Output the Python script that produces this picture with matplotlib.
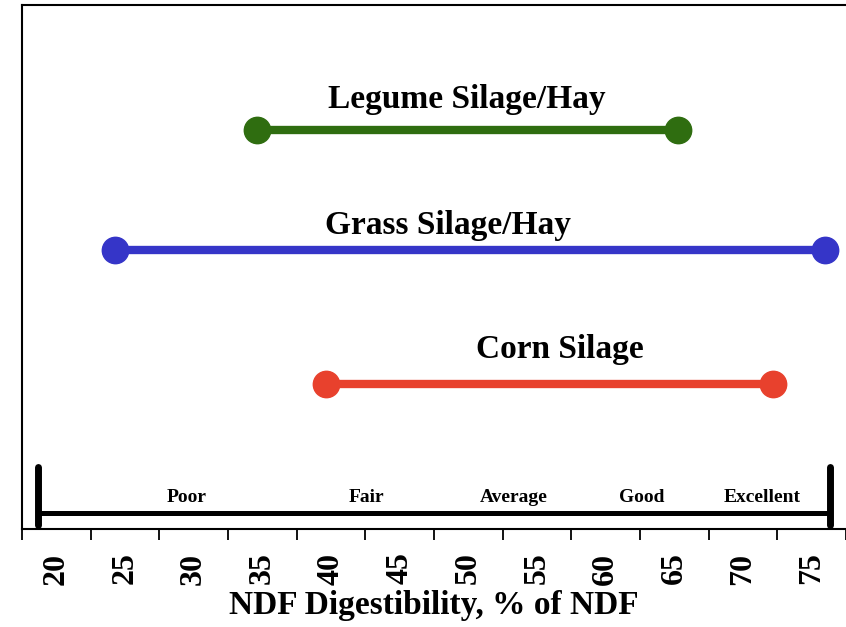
import matplotlib
matplotlib.use("Agg")
import matplotlib.pyplot as plt

# ---- data ----
forages = ["Legume Silage/Hay", "Grass Silage/Hay", "Corn Silage"]
low = [34.6, 24.3, 39.6]
high = [65.3, 76.0, 72.2]
row_y = [7.61, 5.32, 2.77]
label_x = [49.9, 48.5, 56.7]
label_y = [8.20, 5.80, 3.42]
colors = ["#2f6d10", "#3535c8", "#e8412d"]

ratings = ["Poor", "Fair", "Average", "Good", "Excellent"]
rating_x = [29.5, 42.6, 53.3, 62.6, 71.4]
scale_start, scale_end = 18.7, 76.3
scale_y = 0.30

tick_labels = [20, 25, 30, 35, 40, 45, 50, 55, 60, 65, 70, 75]
boundaries = [17.5 + 5 * i for i in range(13)]

plt.rcParams['font.family'] = ['Liberation Serif', 'DejaVu Serif']

fig = plt.figure(figsize=(8.46, 6.27), dpi=100)
ax = fig.add_axes([0.026, 0.1563, 0.974, 0.8357])

for name, lo, hi, y, lx, ly, c in zip(forages, low, high, row_y, label_x, label_y, colors):
    ax.plot([lo, hi], [y, y], color=c, lw=6, solid_capstyle='butt', zorder=2)
    ax.plot([lo, hi], [y, y], 'o', color=c, ms=19, zorder=3)
    ax.text(lx, ly, name, ha='center', va='center', fontsize=24, fontweight='bold')

# rating scale bar
ax.plot([scale_start, scale_end], [scale_y, scale_y], color='black', lw=3.6, solid_capstyle='butt')
for xx in (scale_start, scale_end):
    ax.plot([xx, xx], [0.08, 1.18], color='black', lw=5, solid_capstyle='round')
for r, rx in zip(ratings, rating_x):
    ax.text(rx, 0.61, r, ha='center', va='center', fontsize=14, fontweight='bold')

ax.set_xlim(boundaries[0], boundaries[-1])
ax.set_ylim(0, 10)
ax.set_xticks(boundaries)
ax.set_xticklabels([])
ax.set_xticks(tick_labels, minor=True)
ax.set_xticklabels([str(t) for t in tick_labels], minor=True, rotation=90,
                   fontsize=23, fontweight='bold')
ax.tick_params(axis='x', which='major', direction='out', length=8, width=1.3)
ax.tick_params(axis='x', which='minor', length=0, pad=17)
ax.set_yticks([])
for s in ['left', 'top', 'bottom']:
    ax.spines[s].set_linewidth(1.5)
ax.spines['right'].set_visible(False)

ax.set_xlabel("NDF Digestibility, % of NDF", fontsize=24, fontweight='bold')
ax.xaxis.label.set_va('center')
ax.xaxis.set_label_coords(0.5, -0.146)

fig.savefig("out.png", dpi=100)
